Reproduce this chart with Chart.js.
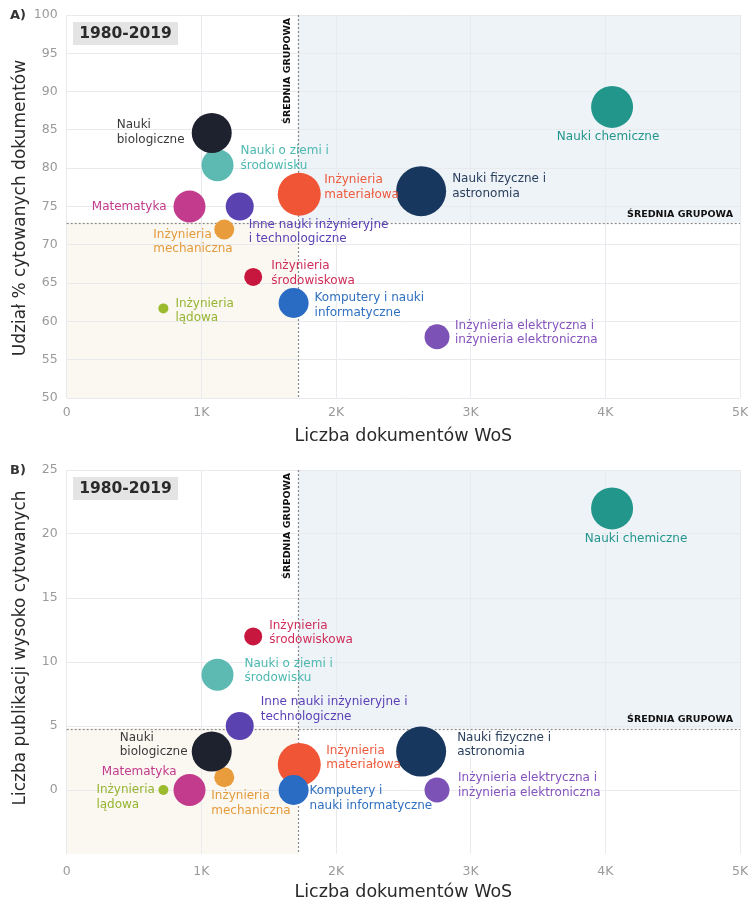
<!DOCTYPE html>
<html><head><meta charset="utf-8">
<script src="https://cdn.jsdelivr.net/npm/chart.js@4/dist/chart.umd.min.js"></script>
<style>
html,body{margin:0;padding:0;background:#fff;}
#wrap{position:relative;width:748px;height:903px;overflow:hidden;}
#cA{position:absolute;left:0;top:0;}
#cB{position:absolute;left:0;top:450px;}
</style></head><body>
<div id="wrap">
<canvas id="cA" width="748" height="450"></canvas>
<canvas id="cB" width="748" height="453"></canvas>
</div>
<script>
// ---------- DATA ----------
const categories = ['Nauki o ziemi i środowisku','Inżynieria mechaniczna','Nauki biologiczne','Matematyka','Inne nauki inżynieryjne i technologiczne','Inżynieria materiałowa','Komputery i nauki informatyczne','Nauki fizyczne i astronomia','Nauki chemiczne','Inżynieria środowiskowa','Inżynieria lądowa','Inżynieria elektryczna i inżynieria elektroniczna'];
const docsWoS       = [1120, 1170, 1077, 912, 1285, 1727, 1685, 2632, 4050, 1385, 718, 2750];
const citedSharePct = [80.4, 72.0, 84.6, 75.0, 75.0, 76.6, 62.4, 77.0, 88.0, 65.8, 61.7, 58.0];
const highlyCited   = [9, 1, 3, 0, 5, 2, 0, 3, 22, 12, 0, 0];
const bubbleSize    = [16, 10, 20, 16, 14, 21.5, 15, 25, 21, 9, 5, 12.5];
const groupMeanDocs = 1715;
const groupMeanCitedShare = 72.9;
const groupMeanHighlyCited = 4.8;
const xTickValues = [0, 1000, 2000, 3000, 4000, 5000];
const xTickLabels = ['0', '1K', '2K', '3K', '4K', '5K'];
const yTickValuesA = [50, 55, 60, 65, 70, 75, 80, 85, 90, 95, 100];
const yTickValuesB = [0, 5, 10, 15, 20, 25];
const periodLabel = '1980-2019';
const meanLabel = 'ŚREDNIA GRUPOWA';
const xTitle = 'Liczba dokumentów WoS';
const yTitleA = 'Udział % cytowanych dokumentów';
const yTitleB = 'Liczba publikacji wysoko cytowanych';
const labelLinesA = [['Nauki o ziemi i','środowisku'],['Inżynieria','mechaniczna'],['Nauki','biologiczne'],['Matematyka'],['Inne nauki inżynieryjne','i technologiczne'],['Inżynieria','materiałowa'],['Komputery i nauki','informatyczne'],['Nauki fizyczne i','astronomia'],['Nauki chemiczne'],['Inżynieria','środowiskowa'],['Inżynieria','lądowa'],['Inżynieria elektryczna i','inżynieria elektroniczna']];
const labelLinesB = [['Nauki o ziemi i','środowisku'],['Inżynieria','mechaniczna'],['Nauki','biologiczne'],['Matematyka'],['Inne nauki inżynieryjne i','technologiczne'],['Inżynieria','materiałowa'],['Komputery i','nauki informatyczne'],['Nauki fizyczne i','astronomia'],['Nauki chemiczne'],['Inżynieria','środowiskowa'],['Inżynieria','lądowa'],['Inżynieria elektryczna i','inżynieria elektroniczna']];

// ---------- STYLE ----------
const bubbleColors = ['#5cbab3','#e99c3c','#1e222e','#c23b8c','#5a42b0','#f05536','#2a6bc4','#17375e','#22968b','#c8173f','#9bbb2e','#7c52b6'];
const labelColors  = ['#4db8b0','#e39a3a','#3a3a3a','#c23b8c','#5a3fb5','#ee5a3c','#2f6fc0','#2b405e','#23968c','#cf2d5a','#95b531','#8553bd'];
// label placement offsets relative to bubble centre: [dx, dy(first line), align]
const placeA = [[23,-14,'left'],[-71,5,'left'],[-95,-8,'left'],[-23,0,'right'],[9,18,'left'],[25,-14,'left'],[21,-5,'left'],[31,-12,'left'],[-4,30,'center'],[18,-11,'left'],[12,-5,'left'],[18,-11,'left']];
const placeB = [[27,-11,'left'],[-13,19,'left'],[-92,-14,'left'],[-13,-18,'right'],[21,-24,'left'],[27,-14,'left'],[16,1,'left'],[36,-14,'left'],[24,30,'center'],[16,-11,'left'],[-67,0,'left'],[21,-12,'left']];

const FONT = 'DejaVu Sans';

function makePlugin(cfg){
  return {
    id: 'decor' + cfg.panel,
    beforeDraw(chart){
      const {ctx, chartArea:a, scales:{x,y}} = chart;
      const mx = x.getPixelForValue(cfg.meanX), my = y.getPixelForValue(cfg.meanY);
      ctx.save();
      ctx.fillStyle = '#ffffff'; ctx.fillRect(0,0,chart.width,chart.height);
      ctx.fillStyle = '#fbf8f1'; ctx.fillRect(a.left, my, mx - a.left, a.bottom - my);
      ctx.fillStyle = '#eef3f8'; ctx.fillRect(mx, a.top, a.right - mx, my - a.top);
      ctx.restore();
    },
    beforeDatasetsDraw(chart){
      const {ctx, chartArea:a, scales:{x,y}} = chart;
      const mx = Math.round(x.getPixelForValue(cfg.meanX)) + 0.5, my = Math.round(y.getPixelForValue(cfg.meanY)) + 0.5;
      ctx.save();
      ctx.strokeStyle = '#8a8a8a'; ctx.lineWidth = 1.2; ctx.setLineDash([2,2]);
      ctx.beginPath(); ctx.moveTo(mx, a.top); ctx.lineTo(mx, a.bottom); ctx.stroke();
      ctx.beginPath(); ctx.moveTo(a.left, my); ctx.lineTo(a.right, my); ctx.stroke();
      ctx.restore();
    },
    afterDatasetsDraw(chart){
      const {ctx, chartArea:a, scales:{x,y}} = chart;
      const meta = chart.getDatasetMeta(0);
      ctx.save();
      ctx.font = '12px "' + FONT + '"';
      ctx.textBaseline = 'middle';
      meta.data.forEach((el, i) => {
        const p = cfg.place[i];
        ctx.fillStyle = labelColors[i];
        ctx.textAlign = p[2];
        cfg.lines[i].forEach((ln, k) => ctx.fillText(ln, el.x + p[0], el.y + p[1] + k * 14.5));
      });
      const mx = x.getPixelForValue(cfg.meanX), my = y.getPixelForValue(cfg.meanY);
      ctx.fillStyle = '#111';
      ctx.font = 'bold 9.5px "' + FONT + '"';
      ctx.textAlign = 'right';
      ctx.fillText(meanLabel, a.right - 7, my - cfg.hOff);
      ctx.save();
      ctx.translate(mx - 10, a.top + 3);
      ctx.rotate(-Math.PI / 2);
      ctx.textAlign = 'right';
      ctx.fillText(meanLabel, 0, 0);
      ctx.restore();
      ctx.restore();
    },
    afterDraw(chart){
      const {ctx, chartArea:a} = chart;
      ctx.save();
      ctx.fillStyle = '#e4e4e4';
      ctx.fillRect(73, a.top + 7, 105, 23);
      ctx.fillStyle = '#2a2a2a';
      ctx.font = 'bold 15.5px "' + FONT + '"';
      ctx.textAlign = 'center'; ctx.textBaseline = 'middle';
      ctx.fillText(periodLabel, 125.5, a.top + 19);
      ctx.font = 'bold 13px "' + FONT + '"';
      ctx.textAlign = 'left';
      ctx.fillStyle = '#333';
      ctx.fillText(cfg.panel + ')', 10, a.top + 1);
      // y axis title
      ctx.save();
      ctx.translate(21, cfg.yTitleY);
      ctx.rotate(-Math.PI / 2);
      ctx.font = '17px "' + FONT + '"';
      ctx.fillStyle = '#2a2a2a';
      ctx.textAlign = 'center';
      ctx.fillText(cfg.yTitle, 0, 0);
      ctx.restore();
      ctx.restore();
    }
  };
}

function makeChart(id, cfg){
  const data = docsWoS.map((d, i) => ({x: d, y: cfg.yValues[i], r: bubbleSize[i]}));
  return new Chart(document.getElementById(id), {
    type: 'bubble',
    data: { labels: categories, datasets: [{ data, backgroundColor: bubbleColors, borderWidth: 0, hoverBorderWidth: 0, clip: false }] },
    plugins: [makePlugin(cfg)],
    options: {
      responsive: false, animation: false, events: [],
      layout: { autoPadding: false, padding: { top: cfg.padTop, right: 8, left: 0, bottom: 0 } },
      plugins: { legend: { display: false }, tooltip: { enabled: false } },
      scales: {
        x: {
          type: 'linear', min: 0, max: 5000,
          afterFit: s => { s.height = cfg.xHeight; s.paddingLeft = 0; s.paddingRight = 0; },
          afterBuildTicks: s => { s.ticks = xTickValues.map(v => ({value: v})); },
          ticks: { callback: v => { const k = xTickValues.indexOf(v); return k < 0 ? '' : xTickLabels[k]; }, color: '#9a9a9a', font: { family: FONT, size: 12.5 }, padding: cfg.xPad, maxRotation: 0 },
          grid: { color: '#e8eaed', drawTicks: false },
          border: { display: false },
          title: { display: true, text: xTitle, color: '#2a2a2a', font: { family: FONT, size: 17.5 }, padding: { top: 0, bottom: cfg.xTitlePad } }
        },
        y: {
          type: 'linear', min: cfg.yMin, max: cfg.yMax,
          afterFit: s => { s.width = 66.7; s.paddingTop = 0; s.paddingBottom = 0; },
          afterBuildTicks: s => { s.ticks = cfg.yTicks.map(v => ({value: v})); },
          ticks: { color: '#9a9a9a', font: { family: FONT, size: 12.5 }, padding: 9 },
          grid: { color: '#e8eaed', drawTicks: false },
          border: { display: false }
        }
      }
    }
  });
}

makeChart('cA', { panel: 'A', yValues: citedSharePct, meanX: groupMeanDocs, meanY: groupMeanCitedShare, place: placeA, lines: labelLinesA,
  yMin: 50, yMax: 100, yTicks: yTickValuesA, padTop: 15, xHeight: 52, xPad: 7, xTitlePad: 3, hOff: 8, yTitle: yTitleA, yTitleY: 208 });
makeChart('cB', { panel: 'B', yValues: highlyCited, meanX: groupMeanDocs, meanY: groupMeanHighlyCited, place: placeB, lines: labelLinesB,
  yMin: -5, yMax: 25, yTicks: yTickValuesB, padTop: 20, xHeight: 49, xPad: 10, xTitlePad: 0, hOff: 9, yTitle: yTitleB, yTitleY: 198 });
</script>
</body></html>
